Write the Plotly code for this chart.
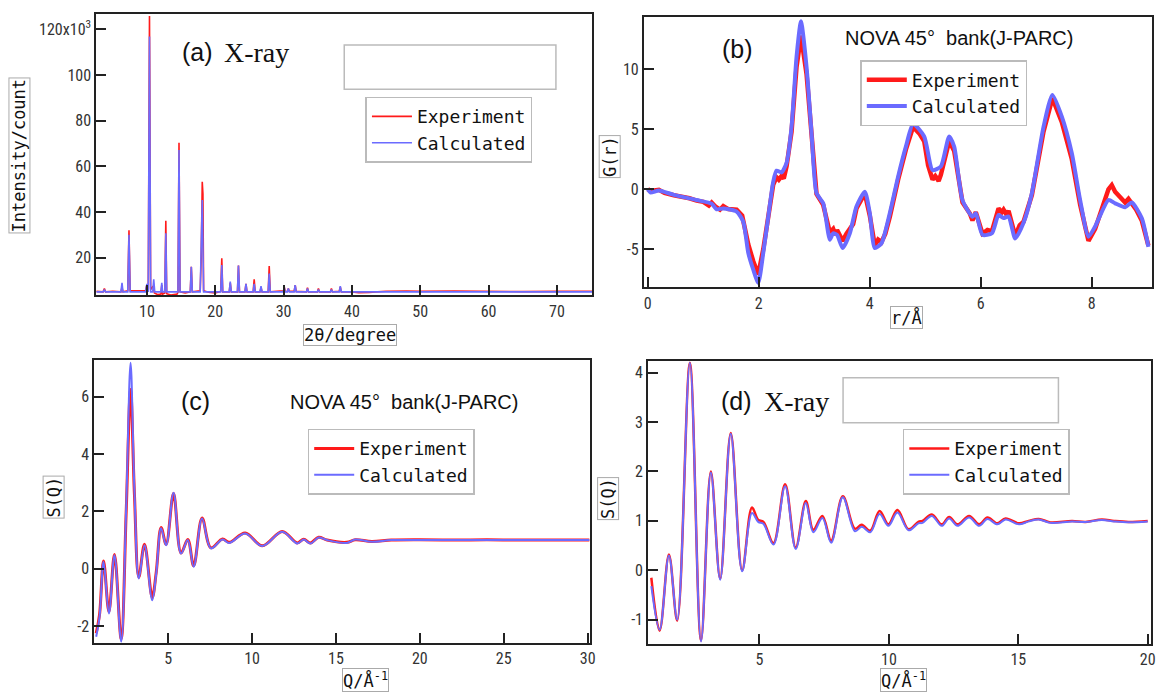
import plotly.graph_objects as go

# ---- (a) X-ray diffraction pattern, intensity in 10^3 counts ----
xrd_tt_exp = [2.6, 3.6, 3.78, 3.95, 5.0, 6.2, 6.36, 6.5, 7.2, 7.38, 7.55, 9.8, 10.0, 10.2, 10.38, 10.55,
              10.9, 11.1, 11.6, 12.05, 12.18, 12.3, 12.62, 12.77, 12.9, 13.5, 14.4, 14.55, 14.7, 14.85,
              15.6, 16.35, 16.5, 16.65, 17.8, 17.95, 18.1, 18.2, 18.3, 19.0, 20.0, 20.8, 20.96, 21.1,
              22.05, 22.2, 22.35, 23.25, 23.4, 23.55, 24.35, 24.5, 24.65, 25.55, 25.7, 25.85, 26.55,
              26.7, 26.85, 27.75, 27.9, 28.05, 29.0, 30.0, 30.1, 30.25, 30.55, 30.7, 30.85, 31.55, 31.7,
              31.85, 33.35, 33.5, 33.65, 34.95, 35.1, 35.25, 36.85, 37.0, 37.15, 38.15, 38.3, 38.45,
              40.0, 41.0, 42.5, 45.0, 48.0, 50.0, 55.0, 60.0, 62.0, 65.0, 70.0, 75.2]
xrd_int_exp = [5.2, 5.0, 6.5, 5.0, 5.3, 5.0, 7.0, 5.0, 5.5, 32.0, 5.5, 5.5, 8.0, 6.0, 125.8, 6.0,
               7.5, 4.5, 3.8, 4.0, 8.0, 4.0, 4.5, 36.2, 4.2, 3.6, 4.0, 4.8, 70.3, 5.0,
               4.5, 5.0, 16.0, 5.0, 5.5, 20.0, 53.2, 48.0, 5.5, 4.8, 4.5, 5.2, 19.7, 5.0,
               5.0, 9.0, 5.0, 5.0, 16.5, 5.0, 5.0, 8.5, 5.0, 5.0, 10.5, 5.0, 5.0,
               7.0, 5.0, 5.0, 16.3, 5.0, 5.3, 5.5, 7.0, 5.3, 5.2, 6.5, 5.2, 5.2, 8.0,
               5.2, 5.0, 6.8, 5.0, 5.0, 6.5, 5.0, 5.0, 6.5, 5.0, 5.2, 7.2, 5.0,
               5.0, 4.6, 4.8, 5.3, 5.4, 5.2, 5.4, 5.2, 5.3, 5.1, 5.2, 5.3]
xrd_tt_calc = [2.6, 3.6, 3.78, 3.95, 6.2, 6.36, 6.5, 7.2, 7.38, 7.55, 9.8, 10.0, 10.2, 10.38, 10.55,
               10.85, 11.0, 11.15, 12.05, 12.18, 12.3, 12.62, 12.77, 12.9, 14.55, 14.7, 14.85,
               16.35, 16.5, 16.65, 17.8, 17.95, 18.1, 18.3, 20.8, 20.96, 21.1, 22.05, 22.2, 22.35,
               23.25, 23.4, 23.55, 24.35, 24.5, 24.65, 25.55, 25.7, 25.85, 26.55, 26.7, 26.85,
               27.75, 27.9, 28.05, 29.95, 30.1, 30.25, 30.55, 30.7, 30.85, 31.55, 31.7, 31.85,
               33.35, 33.5, 33.65, 34.95, 35.1, 35.25, 36.85, 37.0, 37.15, 38.15, 38.3, 38.45, 75.2]
xrd_int_calc = [5.0, 5.0, 6.0, 5.0, 5.0, 9.0, 5.0, 5.0, 30.0, 5.0, 5.0, 8.5, 5.0, 116.8, 5.0,
                5.0, 10.5, 5.0, 5.0, 9.0, 5.0, 5.0, 30.7, 5.0, 5.0, 67.1, 5.0,
                5.0, 16.0, 5.0, 5.0, 20.0, 45.2, 5.0, 5.0, 16.8, 5.0, 5.0, 9.5, 5.0,
                5.0, 16.5, 5.0, 5.0, 8.5, 5.0, 5.0, 8.5, 5.0, 5.0, 7.5, 5.0,
                5.0, 13.0, 5.0, 5.0, 7.0, 5.0, 5.0, 6.5, 5.0, 5.0, 8.0, 5.0,
                5.0, 6.5, 5.0, 5.0, 6.0, 5.0, 5.0, 6.0, 5.0, 5.0, 7.5, 5.0, 5.0]

# ---- (b) G(r), NOVA ----
r_exp = [0.0, 0.05, 0.2, 0.3, 0.47, 0.6, 0.75, 0.88, 1.0, 1.1, 1.15, 1.22, 1.3, 1.36, 1.45, 1.6, 1.7,
         1.76, 1.81, 1.9, 1.99, 2.08, 2.17, 2.26, 2.32, 2.36, 2.41, 2.45, 2.5, 2.59, 2.68, 2.76, 2.86,
         2.95, 3.04, 3.16, 3.28, 3.34, 3.38, 3.41, 3.46, 3.51, 3.58, 3.64, 3.7, 3.76, 3.91, 4.0, 4.09,
         4.15, 4.21, 4.28, 4.36, 4.51, 4.65, 4.78, 4.9, 4.98, 5.05, 5.13, 5.18, 5.24, 5.28, 5.43, 5.52,
         5.67, 5.8, 5.85, 5.91, 6.03, 6.12, 6.2, 6.28, 6.32, 6.38, 6.41, 6.46, 6.5, 6.62, 6.7, 6.77,
         6.92, 7.13, 7.29, 7.46, 7.64, 7.79, 7.94, 8.06, 8.2, 8.3, 8.36, 8.42, 8.5, 8.6, 8.66, 8.72,
         8.8, 8.9, 9.02]
G_exp = [0.0, -0.15, -0.05, -0.3, -0.5, -0.6, -0.75, -0.95, -1.05, -1.35, -1.1, -1.45, -1.7, -1.4,
         -1.65, -1.7, -2.2, -3.5, -4.6, -6.0, -7.1, -5.0, -2.2, 0.4, 1.0, 0.8, 1.1, 0.9, 1.9, 4.8,
         10.2, 12.8, 9.6, 4.5, -0.4, -1.3, -3.6, -3.3, -3.8, -3.4, -3.9, -4.3, -3.7, -3.3, -2.9, -1.6,
         -0.35, -2.2, -4.7, -4.2, -4.4, -3.7, -2.3, 0.8, 3.3, 5.2, 4.6, 4.0, 2.0, 0.8, 1.1, 0.7, 1.2,
         4.0, 3.2, -1.1, -2.0, -2.6, -1.9, -3.7, -3.4, -3.5, -2.0, -1.6, -1.9, -1.7, -2.1, -1.8,
         -3.9, -3.0, -2.7, -0.5, 4.8, 7.6, 5.6, 2.5, -1.3, -4.3, -3.3, -1.5, 0.0, 0.35, -0.2, -0.6,
         -1.1, -0.8, -1.2, -1.7, -2.6, -4.7]
r_calc = [0.0, 0.05, 0.2, 0.47, 0.88, 1.15, 1.24, 1.36, 1.6, 1.72, 1.81, 1.9, 1.99, 2.08, 2.17, 2.26,
          2.32, 2.41, 2.5, 2.59, 2.68, 2.76, 2.86, 2.95, 3.04, 3.16, 3.28, 3.34, 3.41, 3.51, 3.64,
          3.76, 3.91, 4.0, 4.09, 4.21, 4.36, 4.51, 4.65, 4.78, 4.98, 5.13, 5.28, 5.43, 5.52, 5.67,
          5.85, 5.91, 6.03, 6.2, 6.32, 6.41, 6.5, 6.62, 6.77, 6.92, 7.13, 7.29, 7.46, 7.64, 7.79,
          7.94, 8.06, 8.3, 8.42, 8.6, 8.72, 8.9, 9.02]
G_calc = [0.0, -0.28, -0.1, -0.47, -0.9, -1.2, -1.67, -1.6, -1.86, -2.7, -5.3, -6.7, -7.8, -5.3,
          -2.3, 0.64, 1.55, 1.4, 2.2, 5.2, 11.05, 14.0, 10.2, 4.7, -0.33, -1.17, -4.2, -3.67, -3.8,
          -4.9, -3.67, -1.44, -0.2, -2.0, -4.9, -4.5, -2.0, 1.05, 3.55, 5.44, 4.4, 1.6, 1.9, 4.4,
          3.55, -0.9, -2.3, -2.0, -3.8, -3.67, -2.14, -2.4, -2.28, -4.1, -2.8, -0.33, 5.2, 7.86,
          6.05, 3.0, -0.9, -3.95, -3.1, -0.9, -1.17, -1.5, -1.1, -2.4, -4.8]

# ---- (c) S(Q), NOVA ----
qn = [0.71, 0.91, 1.15, 1.47, 1.8, 2.2, 2.5, 2.76, 2.99, 3.25, 3.59, 4.05, 4.29, 4.58, 4.88, 5.32,
      5.77, 6.17, 6.52, 7.02, 7.55, 8.24, 8.64, 9.59, 10.61, 11.8, 12.69, 13.08, 13.48, 13.97, 14.47,
      15.65, 16.15, 17.14, 18.3, 20.0, 22.0, 24.0, 26.0, 28.0, 30.1]
sn_exp = [-2.25, -1.6, 0.27, -1.5, 0.5, -2.45, 2.0, 6.25, 2.6, -0.3, 0.85, -1.0, -0.12, 1.44, 0.85,
          2.62, 0.55, 1.02, 0.1, 1.77, 0.73, 1.04, 0.92, 1.25, 0.8, 1.3, 0.9, 1.03, 0.9, 1.1, 1.0,
          0.92, 1.01, 0.95, 1.0, 1.01, 1.0, 1.01, 1.0, 1.0, 1.0]
sn_calc = [-2.37, -1.68, 0.24, -1.56, 0.47, -2.55, 2.16, 7.18, 2.74, -0.34, 0.82, -1.1, -0.16, 1.41,
           0.82, 2.65, 0.53, 1.0, 0.07, 1.75, 0.71, 1.02, 0.9, 1.23, 0.79, 1.29, 0.88, 1.02, 0.88,
           1.09, 1.0, 0.9, 1.02, 0.94, 1.0, 1.0, 1.0, 1.0, 1.0, 1.0, 1.0]

# ---- (d) S(Q), X-ray ----
qx = [0.82, 1.14, 1.5, 1.82, 2.31, 2.74, 3.12, 3.48, 3.89, 4.33, 4.71, 4.95, 5.15, 5.54, 5.99, 6.4,
      6.79, 7.08, 7.43, 7.77, 8.22, 8.69, 8.95, 9.28, 9.64, 9.98, 10.33, 10.76, 11.14, 11.3, 11.66,
      12.04, 12.33, 12.65, 13.1, 13.49, 13.81, 14.19, 14.51, 15.03, 15.4, 15.79, 16.24, 17.08,
      17.6, 18.23, 18.7, 19.26, 20.0]
sx_exp = [-0.15, -1.22, 0.32, -1.02, 4.2, -1.42, 2.0, -0.17, 2.78, 0.0, 1.27, 1.02, 0.98, 0.55, 1.74,
          0.46, 1.4, 0.82, 1.1, 0.6, 1.5, 0.84, 0.92, 0.8, 1.2, 0.93, 1.22, 0.83, 0.98, 1.0, 1.13,
          0.93, 1.08, 0.93, 1.1, 0.93, 1.07, 0.95, 1.05, 0.95, 1.0, 1.04, 0.97, 1.0, 0.98, 1.03,
          1.0, 0.98, 1.0]
sx_calc = [-0.32, -1.2, 0.3, -1.0, 4.2, -1.44, 1.98, -0.19, 2.76, -0.02, 1.16, 0.98, 0.94, 0.52, 1.7,
           0.43, 1.36, 0.77, 1.06, 0.56, 1.48, 0.79, 0.88, 0.77, 1.14, 0.9, 1.17, 0.81, 0.95, 0.96,
           1.1, 0.9, 1.05, 0.9, 1.07, 0.9, 1.04, 0.93, 1.03, 0.93, 0.99, 1.03, 0.96, 0.99, 0.98,
           1.02, 0.99, 0.97, 0.99]

# the page body has an 8px margin, so the figure is drawn 8px in from the window corner
PAD = 8
W, H = 1164 - PAD, 694 - PAD
RED = '#ff1a1a'
BLUE = '#6b6bff'
MONO = 'DejaVu Sans Mono, Liberation Mono, monospace'
NARROW = 'Liberation Sans Narrow, Arial Narrow, Roboto Condensed, Liberation Sans, sans-serif'
SANS = 'Liberation Sans, Arial, sans-serif'
SERIF = 'Liberation Serif, Times New Roman, serif'


def fx(p):
    # window pixel -> paper x
    return (p - PAD) / W


def fy(p):
    # window pixel -> paper y
    return 1 - (p - PAD) / H


fig = go.Figure()

# (a)
fig.add_trace(go.Scatter(x=xrd_tt_exp, y=xrd_int_exp, mode='lines', name='Experiment',
                         line=dict(color=RED, width=1.6), xaxis='x', yaxis='y', legend='legend'))
fig.add_trace(go.Scatter(x=xrd_tt_calc, y=xrd_int_calc, mode='lines', name='Calculated',
                         line=dict(color=BLUE, width=1.6), xaxis='x', yaxis='y', legend='legend'))
# (b)
fig.add_trace(go.Scatter(x=r_exp, y=G_exp, mode='lines', name='Experiment',
                         line=dict(color=RED, width=4.5), xaxis='x2', yaxis='y2', legend='legend2'))
fig.add_trace(go.Scatter(x=r_calc, y=G_calc, mode='lines', name='Calculated',
                         line=dict(color=BLUE, width=4, shape='spline', smoothing=0.6),
                         xaxis='x2', yaxis='y2', legend='legend2'))
# (c)
fig.add_trace(go.Scatter(x=qn, y=sn_exp, mode='lines', name='Experiment',
                         line=dict(color=RED, width=3, shape='spline', smoothing=1.0),
                         xaxis='x3', yaxis='y3', legend='legend3'))
fig.add_trace(go.Scatter(x=qn, y=sn_calc, mode='lines', name='Calculated',
                         line=dict(color=BLUE, width=2, shape='spline', smoothing=1.0),
                         xaxis='x3', yaxis='y3', legend='legend3'))
# (d)
fig.add_trace(go.Scatter(x=qx, y=sx_exp, mode='lines', name='Experiment',
                         line=dict(color=RED, width=2.5, shape='spline', smoothing=1.0),
                         xaxis='x4', yaxis='y4', legend='legend4'))
fig.add_trace(go.Scatter(x=qx, y=sx_calc, mode='lines', name='Calculated',
                         line=dict(color=BLUE, width=2, shape='spline', smoothing=1.0),
                         xaxis='x4', yaxis='y4', legend='legend4'))

axis_style = dict(showline=True, linecolor='#222', linewidth=2, mirror=True, showgrid=False,
                  zeroline=False, ticks='inside', ticklen=10, tickwidth=2, tickcolor='#222',
                  ticklabeloverflow='allow',
                  tickfont=dict(family=NARROW, size=16, color='#333'))

fig.update_layout(
    width=W, height=H, margin=dict(l=0, r=0, t=0, b=0),
    paper_bgcolor='white', plot_bgcolor='white',
    xaxis=dict(domain=[fx(96.7), fx(595)], range=[2.6, 75.2], anchor='y',
               tickvals=[10, 20, 30, 40, 50, 60, 70], **axis_style),
    yaxis=dict(domain=[fy(295.3), fy(14)], range=[3.5, 126.7], anchor='x',
               tickvals=[20, 40, 60, 80, 100, 120],
               ticktext=['20', '40', '60', '80', '100', '120x10<sup>3</sup>'], **axis_style),
    xaxis2=dict(domain=[fx(646.7), fx(1156.7)], range=[-0.07, 9.08], anchor='y2',
                tickvals=[0, 2, 4, 6, 8], **axis_style),
    yaxis2=dict(domain=[fy(287.3), fy(16.7)], range=[-8.17, 14.38], anchor='x2',
                tickvals=[-5, 0, 5, 10], ticktext=['-5', '0', '5', '10'], **axis_style),
    xaxis3=dict(domain=[fx(94.7), fx(592.7)], range=[0.6, 30.15], anchor='y3',
                tickvals=[5, 10, 15, 20, 25, 30], **axis_style),
    yaxis3=dict(domain=[fy(642.7), fy(360)], range=[-2.58, 7.28], anchor='x3',
                tickvals=[-2, 0, 2, 4, 6], ticktext=['-2', '0', '2', '4', '6'], **axis_style),
    xaxis4=dict(domain=[fx(651), fx(1156)], range=[0.7, 20.13], anchor='y4',
                tickvals=[5, 10, 15, 20], **axis_style),
    yaxis4=dict(domain=[fy(644), fy(360.7)], range=[-1.49, 4.24], anchor='x4',
                tickvals=[-1, 0, 1, 2, 3, 4], ticktext=['-1', '0', '1', '2', '3', '4'], **axis_style),
)

legend_style = dict(bgcolor='white', bordercolor='#bbbbbb', borderwidth=1.5,
                    font=dict(family=MONO, size=18, color='#111'), xanchor='left', yanchor='top',
                    tracegroupgap=0, itemwidth=40)
fig.update_layout(
    legend=dict(x=fx(367), y=fy(96.7), **legend_style),
    legend2=dict(x=fx(864), y=fy(60), **legend_style),
    legend3=dict(x=fx(309), y=fy(428.7), **legend_style),
    legend4=dict(x=fx(906.7), y=fy(428.7), **legend_style),
)

ann = []


def label(text, x, y, family, size, xanchor='center'):
    ann.append(dict(text=text, x=fx(x), y=fy(y), xref='paper', yref='paper', showarrow=False,
                    xanchor=xanchor, yanchor='middle', font=dict(family=family, size=size, color='#111')))


def boxed(text, x, y, angle=0):
    ann.append(dict(text=text, x=fx(x), y=fy(y), xref='paper', yref='paper', showarrow=False,
                    xanchor='center', yanchor='middle', textangle=angle,
                    font=dict(family=MONO, size=17, color='#111'),
                    bordercolor='#aaaaaa', borderwidth=1, borderpad=0, bgcolor='white'))


# panel labels
label('(a)', 181, 51.7, SANS, 25, 'left')
label('X-ray', 223, 53, SERIF, 28, 'left')
label('(b)', 723, 49.3, SANS, 25, 'left')
label('NOVA 45°  bank(J-PARC)', 963, 38.3, SANS, 20)
label('(c)', 180, 401, SANS, 25, 'left')
label('NOVA 45°  bank(J-PARC)', 406, 401.7, SANS, 20)
label('(d)', 722, 401, SANS, 25, 'left')
label('X-ray', 765, 402, SERIF, 28, 'left')

# axis titles in little boxes
boxed('Intensity/count', 19, 155.5, -90)
boxed('2θ/degree', 351.7, 334.5)
boxed('G(r)', 612, 156.7, -90)
boxed('r/Å', 910, 317)
boxed('S(Q)', 53.3, 497.5, -90)
boxed('Q/Å<sup>-1</sup>', 366.7, 680)
boxed('S(Q)', 610.7, 499, -90)
boxed('Q/Å<sup>-1</sup>', 907, 680)

fig.update_layout(annotations=ann)

# empty label boxes left in the original figure
for x0, x1, y0, y1 in [(345.7, 558.3, 45, 89.3), (846.7, 1063, 377.7, 422.7)]:
    fig.add_shape(type='rect', xref='paper', yref='paper', x0=fx(x0), x1=fx(x1), y0=fy(y1), y1=fy(y0),
                  line=dict(color='#bbbbbb', width=1.5), fillcolor='white', layer='above')

fig.write_html("out.html")
